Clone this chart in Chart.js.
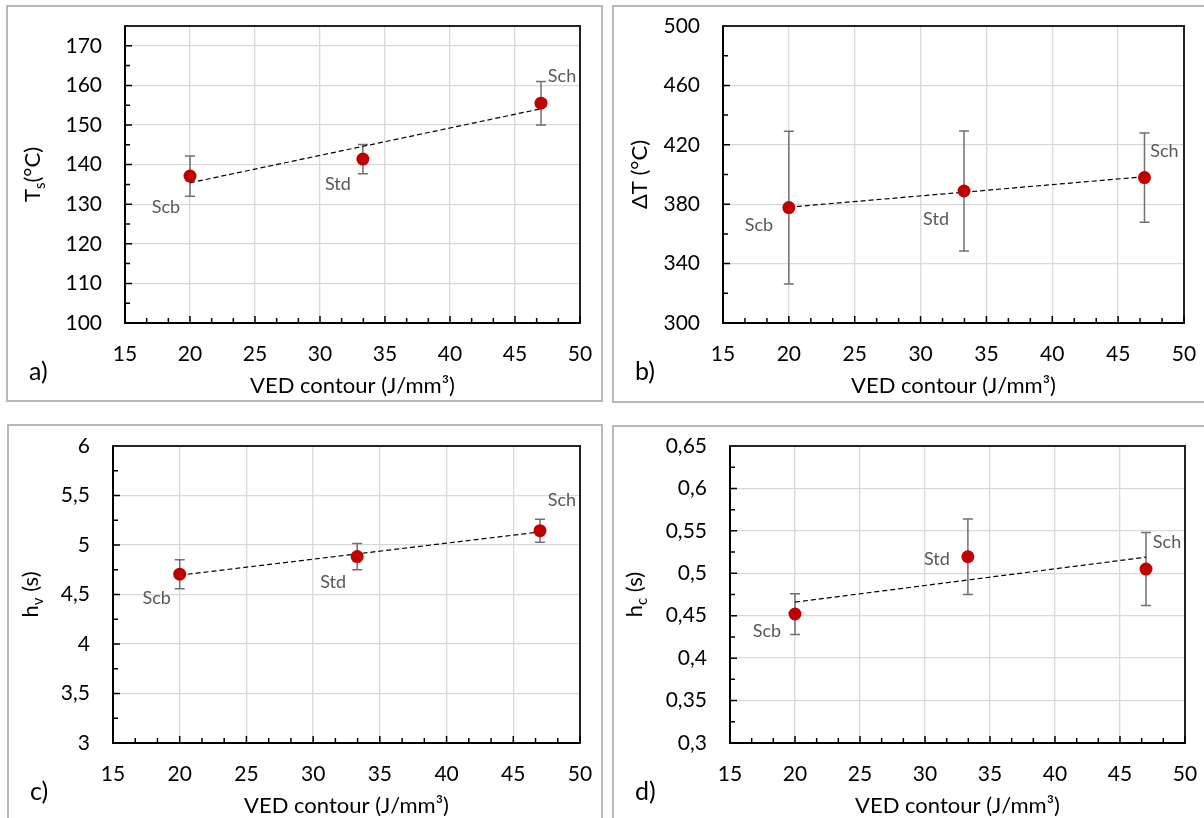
<!DOCTYPE html>
<html>
<head>
<meta charset="utf-8">
<script src="https://cdn.jsdelivr.net/npm/chart.js@4.4.1/dist/chart.umd.min.js"></script>
<style>
  body { margin: 0; background: #fff; width: 1204px; height: 818px; overflow: hidden; position: relative; }
  .panel { position: absolute; box-sizing: border-box; border: 2px solid #b8b8b8; }
  canvas { position: absolute; }
</style>
</head>
<body>
<div class="panel" id="boxA"></div>
<div class="panel" id="boxB"></div>
<div class="panel" id="boxC"></div>
<div class="panel" id="boxD"></div>
<canvas id="A"></canvas>
<canvas id="B"></canvas>
<canvas id="C"></canvas>
<canvas id="D"></canvas>
<script>
// x values (VED contour, J/mm3) shared by all four panels
const vedContour = [20, 33.3, 47];
const sampleNames = ['Scb', 'Std', 'Sch'];
const trendX = [20, 47];
const xRange = [15, 50, 5];

// a) Ts
const tsValues = [137.1, 141.4, 155.5];
const tsErrors = [5.1, 3.7, 5.5];
const tsTrend = [135.4, 154.1];
const tsRange = [100, 175, 10];

// b) delta T
const dtValues = [377.7, 388.9, 397.9];
const dtErrors = [51.5, 40.4, 30.1];
const dtTrend = [378.0, 398.5];
const dtRange = [300, 500, 40];

// c) hv
const hvValues = [4.705, 4.883, 5.145];
const hvErrors = [0.146, 0.133, 0.116];
const hvTrend = [4.695, 5.132];
const hvRange = [3, 6, 0.5];

// d) hc
const hcValues = [0.452, 0.5195, 0.505];
const hcErrors = [0.024, 0.0445, 0.043];
const hcTrend = [0.466, 0.519];
const hcRange = [0.3, 0.65, 0.05];

const FONT = 'Lato, "Open Sans", sans-serif';
const YW = 70, XH = 40;

const panels = [
  { id: 'A', letter: 'a)', box: [6, 5, 597, 397], plot: [125, 26, 580, 323],
    values: tsValues, errors: tsErrors, trend: tsTrend, range: tsRange, decimals: 0,
    title: [['T'], ['s', true], ['(°C)']], titleX: 33,
    labelOffsets: [[-24, 31], [-25, 25], [21, -27]] },
  { id: 'B', letter: 'b)', box: [612, 5, 596, 398], plot: [723, 26, 1184, 323],
    values: dtValues, errors: dtErrors, trend: dtTrend, range: dtRange, decimals: 0,
    title: [['ΔT (°C)']], titleX: 640,
    labelOffsets: [[-30, 18], [-28, 28], [20, -26]] },
  { id: 'C', letter: 'c)', box: [7, 424, 596, 400], plot: [113, 446, 580, 743],
    values: hvValues, errors: hvErrors, trend: hvTrend, range: hvRange, decimals: 2,
    title: [['h'], ['v', true], [' (s)']], titleX: 31,
    labelOffsets: [[-23, 24], [-24, 26], [22, -30]] },
  { id: 'D', letter: 'd)', box: [612, 425, 596, 400], plot: [730, 446, 1185, 743],
    values: hcValues, errors: hcErrors, trend: hcTrend, range: hcRange, decimals: 3,
    title: [['h'], ['c', true], [' (s)']], titleX: 635,
    labelOffsets: [[-28, 17], [-31, 2], [21, -27]] }
];

function fmt(v, d) {
  return String(+v.toFixed(d)).replace('.', ',');
}

const decorPlugin = {
  id: 'decor',
  beforeDatasetsDraw(chart) {
    const p = panels.find(q => q.id === chart.canvas.id);
    const { ctx, scales: { x, y } } = chart;
    ctx.save();
    ctx.strokeStyle = '#707070';
    ctx.lineWidth = 1.5;
    p.values.forEach((v, i) => {
      const px = x.getPixelForValue(vedContour[i]);
      const top = y.getPixelForValue(v + p.errors[i]);
      const bot = y.getPixelForValue(v - p.errors[i]);
      ctx.beginPath();
      ctx.moveTo(px, top); ctx.lineTo(px, bot);
      ctx.moveTo(px - 5, top); ctx.lineTo(px + 5, top);
      ctx.moveTo(px - 5, bot); ctx.lineTo(px + 5, bot);
      ctx.stroke();
    });
    ctx.restore();
  },
  afterDraw(chart) {
    const p = panels.find(q => q.id === chart.canvas.id);
    const { ctx, chartArea: a, scales: { x, y } } = chart;
    const ox = p.box[0];
    ctx.save();

    // plot area frame
    ctx.strokeStyle = '#222';
    ctx.lineWidth = 2;
    ctx.strokeRect(a.left, a.top, a.right - a.left, a.bottom - a.top);
    ctx.strokeStyle = '#000';
    ctx.beginPath();
    ctx.moveTo(a.left, a.top); ctx.lineTo(a.left, a.bottom); ctx.lineTo(a.right, a.bottom);
    ctx.stroke();

    // inside tick marks
    ctx.lineWidth = 1.5;
    ctx.beginPath();
    const step = xRange[2];
    for (let v = xRange[0]; v <= xRange[1] + 1e-9; v += step) {
      const px = x.getPixelForValue(v);
      ctx.moveTo(px, a.bottom); ctx.lineTo(px, a.bottom - 7);
      if (v < xRange[1]) {
        for (let k = 1; k < 3; k++) {
          const mx = x.getPixelForValue(v + step * k / 3);
          ctx.moveTo(mx, a.bottom); ctx.lineTo(mx, a.bottom - 5);
        }
      }
    }
    const [ymin, ymax, ystep] = p.range;
    for (let i = 0; ymin + i * ystep / 2 < ymax - 1e-9; i++) {
      const py = y.getPixelForValue(ymin + i * ystep / 2);
      ctx.moveTo(a.left, py); ctx.lineTo(a.left + (i % 2 === 0 ? 7 : 5), py);
    }
    ctx.stroke();

    // point labels
    ctx.fillStyle = '#595959';
    ctx.font = '18px ' + FONT;
    ctx.textAlign = 'center';
    ctx.textBaseline = 'middle';
    p.values.forEach((v, i) => {
      const px = x.getPixelForValue(vedContour[i]);
      const py = y.getPixelForValue(v);
      ctx.fillText(sampleNames[i], px + p.labelOffsets[i][0], py + p.labelOffsets[i][1]);
    });

    // x title
    ctx.fillStyle = '#000';
    ctx.font = '22px ' + FONT;
    ctx.fillText('VED contour (J/mm³)', (a.left + a.right) / 2, a.bottom + 63);

    // panel letter
    ctx.font = '25px ' + FONT;
    ctx.textAlign = 'left';
    ctx.fillText(p.letter, 23, a.bottom + 49);

    // y title with subscript
    ctx.translate(p.titleX - ox, (a.top + a.bottom) / 2);
    ctx.rotate(-Math.PI / 2);
    const big = '22px ' + FONT, small = '15px ' + FONT;
    let total = 0;
    p.title.forEach(part => { ctx.font = part[1] ? small : big; total += ctx.measureText(part[0]).width; });
    let cx = -total / 2;
    p.title.forEach(part => {
      ctx.font = part[1] ? small : big;
      ctx.fillText(part[0], cx, part[1] ? 7 : 0);
      cx += ctx.measureText(part[0]).width;
    });
    ctx.restore();
  }
};

Chart.defaults.font.family = FONT;
Chart.defaults.color = '#000';

panels.forEach(p => {
  const [bl, bt, bw, bh] = p.box;
  const [pl, pt, pr, pb] = p.plot;
  const box = document.getElementById('box' + p.id);
  box.style.left = bl + 'px'; box.style.top = bt + 'px';
  box.style.width = bw + 'px'; box.style.height = bh + 'px';
  const canvas = document.getElementById(p.id);
  canvas.style.left = bl + 'px'; canvas.style.top = bt + 'px';
  canvas.width = bw; canvas.height = bh;

  new Chart(canvas, {
    type: 'scatter',
    data: {
      datasets: [
        {
          label: 'points',
          data: vedContour.map((v, i) => ({ x: v, y: p.values[i] })),
          backgroundColor: '#c00000',
          borderWidth: 0,
          pointRadius: 6.5
        },
        {
          type: 'line',
          label: 'trend',
          data: trendX.map((v, i) => ({ x: v, y: p.trend[i] })),
          borderColor: '#000',
          borderWidth: 1.2,
          borderDash: [5, 3],
          pointRadius: 0,
          fill: false
        }
      ]
    },
    options: {
      responsive: false,
      animation: false,
      layout: {
        padding: {
          left: pl - bl - YW,
          top: pt - bt,
          right: bl + bw - pr,
          bottom: bt + bh - pb - XH
        }
      },
      plugins: { legend: { display: false }, tooltip: { enabled: false } },
      scales: {
        x: {
          type: 'linear',
          min: xRange[0], max: xRange[1],
          afterFit: s => { s.height = XH; s.paddingLeft = 0; s.paddingRight = 0; },
          border: { display: false },
          grid: { color: '#d9d9d9', lineWidth: 1.3, drawTicks: false },
          ticks: { stepSize: xRange[2], padding: 19, font: { size: 21 } }
        },
        y: {
          min: p.range[0], max: p.range[1],
          afterFit: s => { s.width = YW; s.paddingTop = 0; s.paddingBottom = 0; },
          border: { display: false },
          grid: { color: '#d9d9d9', lineWidth: 1.3, drawTicks: false },
          ticks: {
            stepSize: p.range[2], includeBounds: false, padding: 23,
            font: { size: 21 },
            callback: v => fmt(v, p.decimals)
          }
        }
      }
    },
    plugins: [decorPlugin]
  });
});
</script>
</body>
</html>
